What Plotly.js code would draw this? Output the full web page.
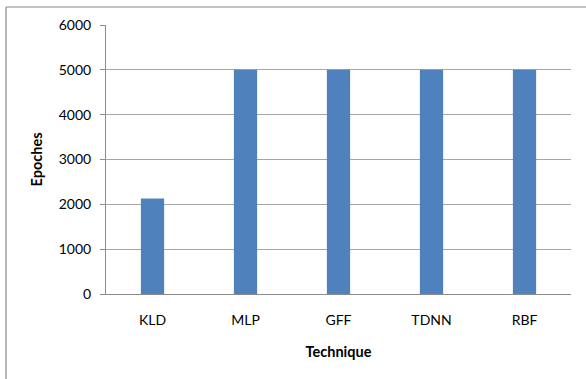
<!DOCTYPE html>
<html>
<head>
<meta charset="utf-8">
<script src="https://cdn.plot.ly/plotly-3.0.1.min.js"></script>
<style>html,body{margin:0;padding:0;background:#fff;}#chart{width:586px;height:379px;}</style>
</head>
<body>
<div id="chart"></div>
<script>
const categories = ["KLD", "MLP", "GFF", "TDNN", "RBF"];
const epoches = [2130, 5000, 5000, 5000, 5000];
const yTicks = [0, 1000, 2000, 3000, 4000, 5000, 6000];

const W = 586, H = 379;
const M = {l: 106, r: 15, t: 25, b: 85};
const pw = W - M.l - M.r, ph = H - M.t - M.b;
const px = v => (v - M.l) / pw;
const py = v => (H - M.b - v) / ph;

const font = "Lato, 'Open Sans', 'Liberation Sans', sans-serif";

Plotly.newPlot('chart', [{
  type: 'bar',
  x: categories,
  y: epoches,
  marker: {color: '#4f81bd', line: {width: 0}},
  width: 0.25,
  hoverinfo: 'x+y'
}], {
  width: W, height: H,
  margin: M,
  paper_bgcolor: '#fff', plot_bgcolor: '#fff',
  showlegend: false,
  font: {family: font, size: 14, color: '#000'},
  xaxis: {
    type: 'category',
    showline: true, linecolor: '#8c8c8c', linewidth: 1,
    ticks: '', showgrid: false, zeroline: false,
    ticklabelstandoff: 13,
    tickfont: {family: font, size: 14, color: '#000'},
    title: {text: '<b>Technique</b>', font: {family: font, size: 14.5, color: '#000'}, standoff: 20}
  },
  yaxis: {
    range: [0, 6000], tickvals: yTicks, ticktext: yTicks.map(String),
    showline: true, linecolor: '#8c8c8c', linewidth: 1,
    ticks: 'outside', ticklen: 5, tickcolor: '#8c8c8c',
    showgrid: true, gridcolor: '#a6a6a6', gridwidth: 1, zeroline: false,
    ticklabelstandoff: 6,
    tickfont: {family: font, size: 14, color: '#000'},
    title: {text: '<b>Epoches</b>', font: {family: font, size: 14.5, color: '#000'}, standoff: 12}
  },
  shapes: [
    {type: 'line', xref: 'paper', yref: 'paper', x0: px(6), x1: px(600), y0: py(7), y1: py(7), line: {color: '#8a8a8a', width: 1.2}},
    {type: 'line', xref: 'paper', yref: 'paper', x0: px(6), x1: px(6), y0: py(7), y1: py(400), line: {color: '#8a8a8a', width: 1.2}}
  ]
}, {displayModeBar: false, staticPlot: true});
</script>
</body>
</html>
